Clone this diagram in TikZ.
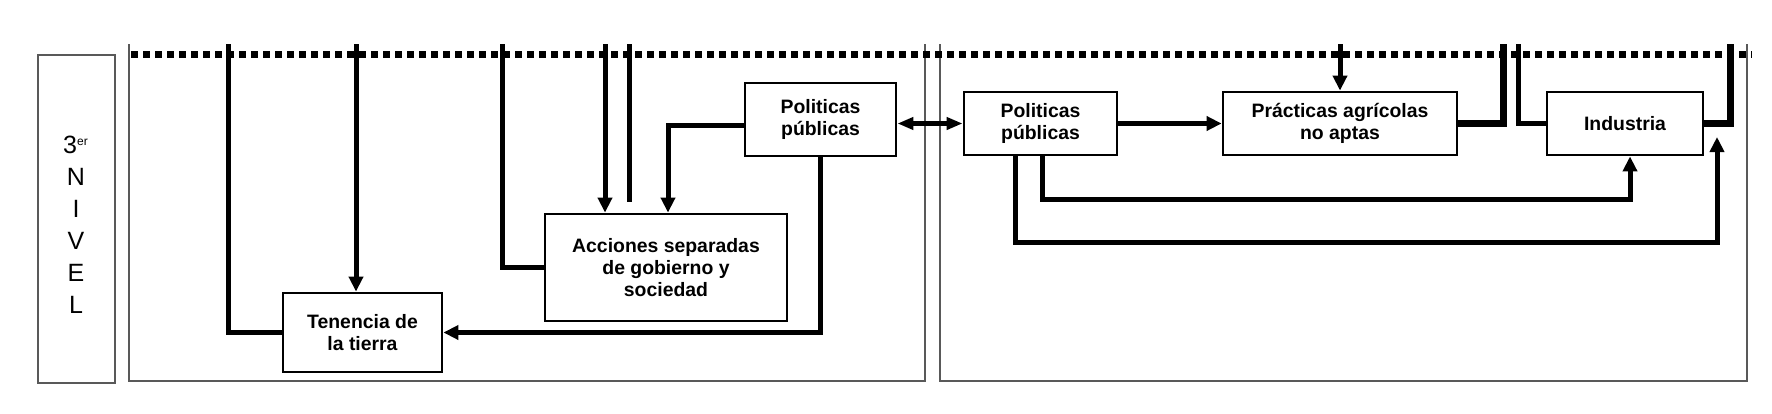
\documentclass[tikz,border=0pt]{standalone}
\usepackage{fontspec}
\setmainfont{Liberation Sans}
\usetikzlibrary{arrows.meta}
\begin{document}
\begin{tikzpicture}[x=0.5pt,y=-0.5pt,
  panel/.style={draw=black!65, line width=0.7pt},
  box/.style={draw, line width=1.4pt, inner sep=0pt, align=center, fill=white,
    font=\bfseries\fontsize{9.7}{11}\selectfont},
  conn/.style={line width=2.5pt},
  heavy/.style={line width=3.5pt},
  tip/.style={-{Triangle[length=7.5pt,width=7pt]}},
  dbl/.style={{Triangle[length=8pt,width=6pt]}-{Triangle[length=8pt,width=6pt]}},
]
\useasboundingbox (0,0) rectangle (1772,413);

% level label
\node[panel, minimum width=38.5pt, minimum height=164pt, inner sep=0pt] (lab) at (76.5,219) {};
\node[align=center, inner sep=0pt, font=\fontsize{12.5}{16}\selectfont] (labtext) at (76,225)
  {3\textsuperscript{\fontsize{6}{6}\selectfont er}\\N\\I\\V\\E\\L};

% panels
\draw[panel] (129,44) |- (925,381) -- (925,44);
\draw[panel] (940,44) |- (1747,381) -- (1747,44);

% dotted boundary
\draw[line width=3.5pt, dash pattern=on 3.5pt off 2.5pt] (131,54) -- (1752,54);

% top coordinates
\coordinate (s1) at (228,44);
\coordinate (s2) at (356,44);
\coordinate (s3) at (502,44);
\coordinate (s4) at (605,44);
\coordinate (s5) at (629,44);
\coordinate (e5) at (629,202);
\coordinate (s10) at (1340,44);
\coordinate (s11) at (1503,44);
\coordinate (s12) at (1518,44);
\coordinate (s13) at (1730,44);
\coordinate (k6) at (668,125);
\coordinate (k14) at (1042,199);
\coordinate (k15) at (1630,199);
\coordinate (k16) at (1015,242);
\coordinate (k17) at (1717,242);
\coordinate (e17) at (1717,137);

% boxes
\node[box, minimum width=79.5pt, minimum height=39.5pt] (T) at (362.5,332.5) {Tenencia de\\la tierra};
\node[box, minimum width=121pt, minimum height=53.5pt] (A) at (666,267.5) {Acciones separadas\\de gobierno y\\sociedad};
\node[box, minimum width=75.5pt, minimum height=36.5pt] (P1) at (820.5,119.5) {Politicas\\públicas};
\node[box, minimum width=76.5pt, minimum height=31.5pt] (P2) at (1040.5,123.5) {Politicas\\públicas};
\node[box, minimum width=117pt, minimum height=31.5pt] (PR) at (1340,123.5) {Prácticas agrícolas\\no aptas};
\node[box, minimum width=78pt, minimum height=31.5pt] (I) at (1625,123.5) {Industria};

% connectors
\draw[conn] (s1) |- (T.west);
\draw[conn,tip] (s2) -- (s2 |- T.north);
\draw[conn] (s3) |- (A.west);
\draw[conn,tip] (s4) -- (s4 |- A.north);
\draw[conn] (s5) -- (e5);
\draw[conn,tip] (k6 -| P1.west) -- (k6) -- (k6 |- A.north);
\draw[conn,tip] (P1.south) |- (T.east);
\draw[conn,dbl] (P1.east |- P2.west) -- (P2.west);
\draw[conn,tip] (P2.east) -- (PR.west);
\draw[conn,tip] (s10) -- (s10 |- PR.north);
\draw[heavy] (PR.east) -| (s11);
\draw[conn] (s12) |- (I.west);
\draw[heavy] (I.east) -| (s13);
\draw[conn,tip] (k14 |- P2.south) -- (k14) -- (k15) -- (k15 |- I.south);
\draw[conn,tip] (k16 |- P2.south) -- (k16) -- (k17) -- (e17);
\end{tikzpicture}
\end{document}
